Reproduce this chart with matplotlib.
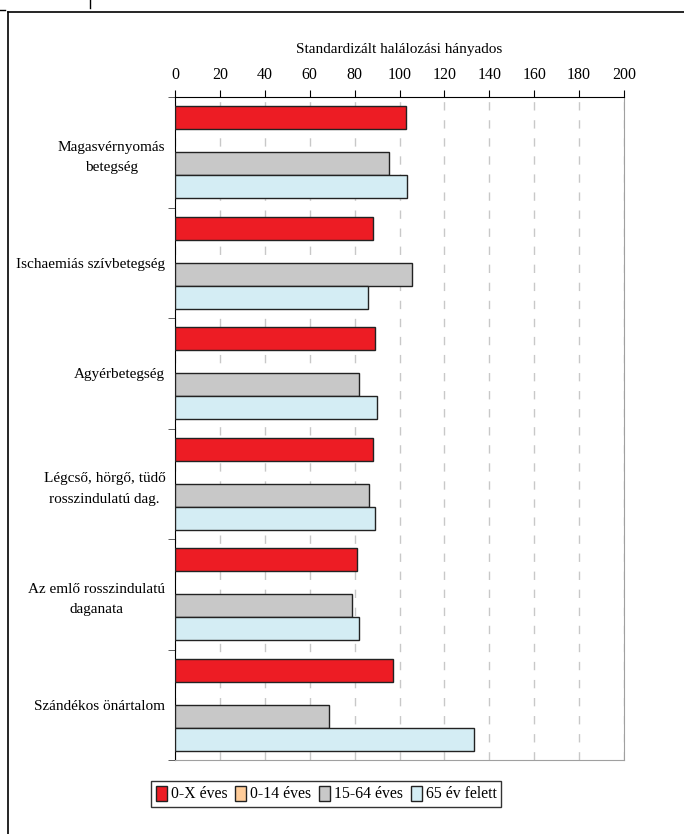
import numpy as np
import matplotlib
matplotlib.use("Agg")
import matplotlib.pyplot as plt
from matplotlib.lines import Line2D
from matplotlib import rcParams

rcParams['font.family'] = ['Liberation Serif', 'DejaVu Serif']
rcParams['font.size'] = 10.5

# halálokok és SMR értékek korcsoportonként
categories = [
    "Magasvérnyomás\nbetegség",
    "Ischaemiás szívbetegség",
    "Agyérbetegség",
    "Légcső, hörgő, tüdő\nrosszindulatú dag.",
    "Az emlő rosszindulatú\ndaganata",
    "Szándékos önártalom",
]
age_0_x = [103, 88, 89, 88, 81, 97]
age_0_14 = [np.nan] * 6
age_15_64 = [95.5, 105.5, 82, 86.5, 79, 68.5]
age_65 = [103.5, 86, 90, 89, 82, 133]

series = [
    ("0-X éves", age_0_x, "#ED1C24"),
    ("0-14 éves", age_0_14, "#FFCC99"),
    ("15-64 éves", age_15_64, "#C8C8C8"),
    ("65 év felett", age_65, "#D4EDF4"),
]

fig = plt.figure(figsize=(6.84, 8.34), dpi=100)
ax = fig.add_axes([175 / 684, 1 - 760 / 834, 449 / 684, 663 / 834])

n = len(categories)
bar_h = 0.208
offset0 = 0.084
for i, (name, vals, col) in enumerate(series):
    y = np.arange(n) + offset0 + bar_h * (i + 0.5)
    ax.barh(y, vals, height=bar_h, color=col, edgecolor="#222222",
            linewidth=1.0, label=name, zorder=3)

ax.set_xlim(0, 200)
ax.set_ylim(n, 0)
ax.set_xticks(np.arange(0, 201, 20))
ax.xaxis.tick_top()
ax.xaxis.set_label_position("top")
ax.set_xlabel("Standardizált halálozási hányados", labelpad=10, fontsize=11)
ax.tick_params(axis="x", direction="out", length=5, pad=5, color="black",
               labelsize=11.5)

ax.set_yticks(np.arange(n) + 0.5)
ax.set_yticklabels(categories, fontsize=11)
ax.set_yticks(np.arange(n + 1), minor=True)
ax.tick_params(axis="y", which="major", length=0, pad=7)
ax.tick_params(axis="y", which="minor", direction="out", length=5, color="#444444")
for t in ax.get_yticklabels():
    t.set_multialignment("center")
    t.set_linespacing(1.75)

ax.grid(axis="x", color="#C8C8C8", linestyle=(0, (6, 7)), linewidth=1.0, zorder=0)
ax.grid(axis="y", visible=False)

ax.spines["top"].set_color("black")
ax.spines["left"].set_color("black")
ax.spines["right"].set_color("#A0A0A0")
ax.spines["bottom"].set_color("#A0A0A0")

leg = ax.legend(loc="center", bbox_to_anchor=(326 / 684, 1 - 794 / 834),
                bbox_transform=fig.transFigure, ncol=4, frameon=True,
                fancybox=False, edgecolor="black", handlelength=0.7,
                handleheight=1.1, handletextpad=0.25, columnspacing=0.5,
                borderpad=0.3, borderaxespad=0, fontsize=11.3)
leg.get_frame().set_linewidth(1.0)

# keret a diagram körül
W, H = 684, 834
fig.add_artist(Line2D([8 / W, 8 / W], [0, 1 - 12 / H], color="black", lw=1.2))
fig.add_artist(Line2D([8 / W, 1], [1 - 12 / H, 1 - 12 / H], color="black", lw=1.2))
fig.add_artist(Line2D([0, 5 / W], [1 - 10 / H, 1 - 10 / H], color="black", lw=1.0))
fig.add_artist(Line2D([90 / W, 90 / W], [1, 1 - 8 / H], color="black", lw=1.0))

fig.savefig("out.png", dpi=100)
